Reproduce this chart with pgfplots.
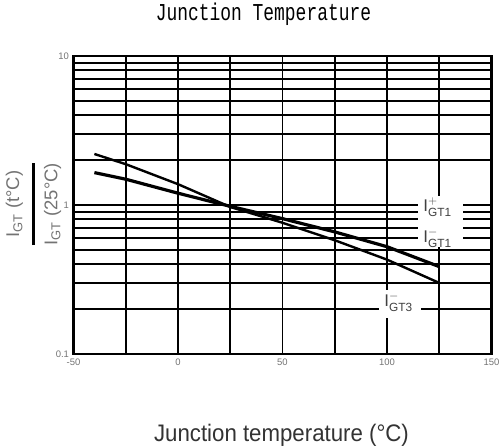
\documentclass[border=0pt]{standalone}
\usepackage{pgfplots}
\pgfplotsset{compat=1.18}
\usepackage{amsmath}
\usepackage{graphicx}
\usepackage{fontspec}
\setmainfont{Liberation Sans}
\newfontfamily\titlefont{Liberation Mono}
\begin{document}
\begin{tikzpicture}
\useasboundingbox (-73.5bp,-94bp) rectangle (430.5bp,354bp);
\begin{axis}[
  at={(0,0)}, anchor=south west,
  scale only axis, width=418bp, height=298bp,
  xmin=-50, xmax=150, ymode=log, ymin=0.1, ymax=10,
  xtick={-50,-25,0,25,50,75,100,125,150},
  xticklabels={-50,,0,,50,,100,,150},
  ytick={0.1,1,10}, yticklabels={0.1,1,10},
  minor ytick={0.2,0.3,0.4,0.5,0.6,0.7,0.8,0.9,2,3,4,5,6,7,8,9},
  grid=both,
  major grid style={black, line width=1.9bp},
  minor grid style={black, line width=1.9bp},
  axis line style={black, line width=2.8bp},
  major tick length=0pt, minor tick length=0pt,
  tick label style={font=\fontsize{9.5}{9.5}\selectfont, text=black!55},
  /pgf/number format/assume math mode=true,
  xticklabel style={yshift=-1bp},
  yticklabel style={xshift=-1bp},
  title={\scalebox{1}[1.35]{\titlefont Junction Temperature}},
  title style={at={(0.4545,1.121)}, anchor=center, font=\fontsize{18}{18}\selectfont},
  xlabel={\scalebox{0.93}[1]{Junction temperature (°C)}},
  xlabel style={at={(0.4976,-0.272)}, anchor=center, font=\fontsize{24}{24}\selectfont, text=black!80},
  ylabel={$\genfrac{}{}{3bp}{0}{\textcolor{black!55}{\text{I}_{\text{GT}}\text{ (t°C)}}}{\textcolor{black!55}{\text{I}_{\text{GT}}\text{ (25°C)}}}$},
  ylabel style={at={(-0.0957,0.503)}, anchor=center, font=\fontsize{18.5}{18.5}\selectfont},
]
% I+GT1 / I-GT1 line
\addplot[black, line width=3.2bp] coordinates {
  (-40,1.65) (-25,1.49) (0,1.20) (25,0.98) (50,0.81) (75,0.66) (100,0.525) (125,0.386)
};
% I-GT3 line
\addplot[black, line width=2.4bp] coordinates {
  (-40,2.20) (-25,1.88) (0,1.38) (25,0.97) (50,0.76) (75,0.58) (100,0.43) (125,0.30)
};
\node[fill=white, minimum width=45bp, minimum height=51bp, inner sep=0pt] at (rel axis cs:0.8768,0.443) {};
\node[fill=white, minimum width=42bp, minimum height=28bp, inner sep=0pt] at (rel axis cs:0.78,0.168) {};
\node[text=black!75, font=\fontsize{17}{17}\selectfont] at (rel axis cs:0.871,0.493) {$\text{I}^{+}_{\text{GT1}}$};
\node[text=black!75, font=\fontsize{17}{17}\selectfont] at (rel axis cs:0.871,0.389) {$\text{I}^{-}_{\text{GT1}}$};
\node[text=black!75, font=\fontsize{17}{17}\selectfont] at (rel axis cs:0.7775,0.174) {$\text{I}^{-}_{\text{GT3}}$};
\end{axis}
\end{tikzpicture}
\end{document}
